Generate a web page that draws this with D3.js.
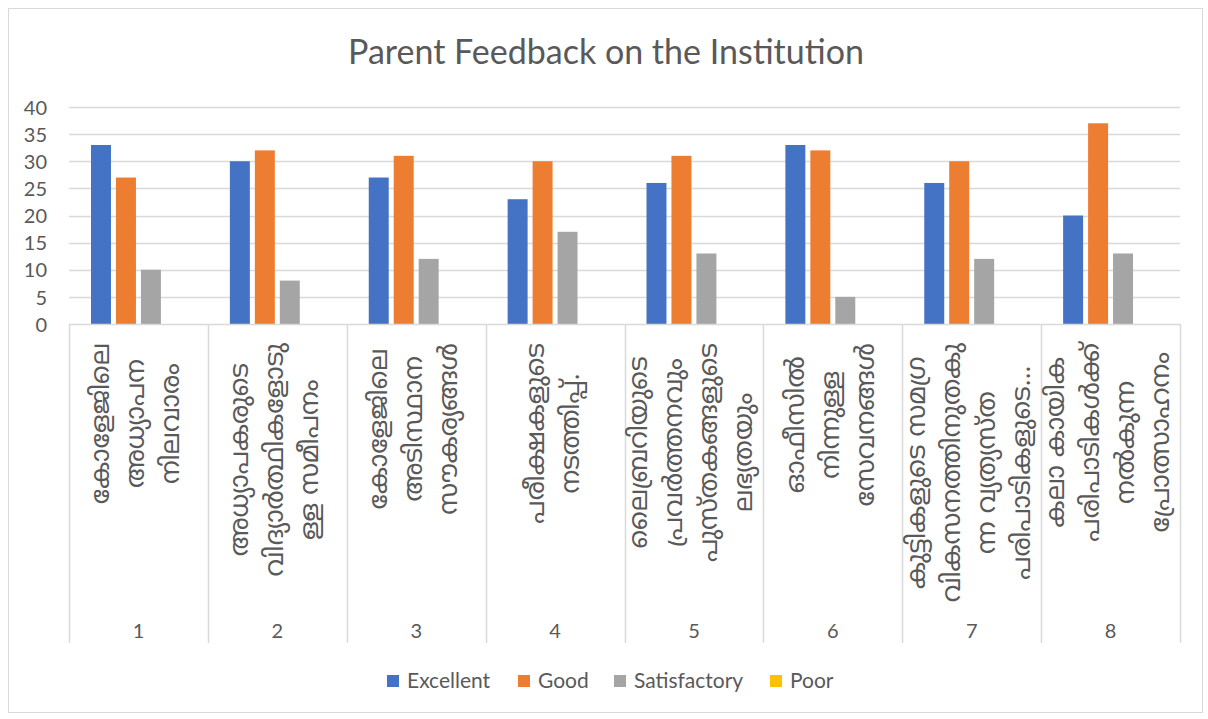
<!DOCTYPE html>
<html><head><meta charset="utf-8">
<script src="https://cdn.jsdelivr.net/npm/d3@7"></script>
<style>
html,body{margin:0;padding:0;background:#fff;}
svg{display:block;font-family:Lato,"Liberation Sans",sans-serif;}
</style></head>
<body>
<svg id="chart" width="1208" height="719"></svg>
<script>
const title = "Parent Feedback on the Institution";
const categories = ["1","2","3","4","5","6","7","8"];
const categoryTexts = [
  ["കോളേജിലെ","അധ്യാപന","നിലവാരം"],
  ["അധ്യാപകരുടെ","വിദ്യാർത്ഥികളോടു","ള്ള  സമീപനം"],
  ["കോളേജിലെ","അടിസ്ഥാന","സൗകര്യങ്ങൾ"],
  ["പരീക്ഷകളുടെ","നടത്തിപ്പ്."],
  ["ലൈബ്രറിയുടെ","പ്രവർത്തനവും","പുസ്തകങ്ങളുടെ","ലഭ്യതയും"],
  ["ഓഫീസിൽ","നിന്നുള്ള","സേവനങ്ങൾ"],
  ["കുട്ടികളുടെ  സമഗ്ര","വികസനത്തിനുതകു","ന്ന  വ്യത്യസ്ത","പരിപാടികളുടെ..."],
  ["കലാ  കായിക","പരിപാടികൾക്ക്","നൽകുന്ന","പ്രോത്സാഹനം"]
];
const seriesNames = ["Excellent","Good","Satisfactory","Poor"];
const excellent = [33,30,27,23,26,33,26,20];
const good = [27,32,31,30,31,32,30,37];
const satisfactory = [10,8,12,17,13,5,12,13];
const poor = [0,0,0,0,0,0,0,0];
const yTicks = [0,5,10,15,20,25,30,35,40];
const colors = ["#4472C4","#ED7D31","#A5A5A5","#FFC000"];

(function(){
const seriesValues = [excellent, good, satisfactory, poor];
const svg = d3.select("#chart");
const textColor = "#595959";
const gridColor = "#D9D9D9";

svg.append("rect").attr("x",8.5).attr("y",8.5).attr("width",1194).attr("height",704)
  .attr("fill","#fff").attr("stroke",gridColor).attr("stroke-width",1);

svg.append("text").attr("x",606).attr("y",64).attr("text-anchor","middle")
  .attr("font-size",34).attr("fill",textColor).attr("font-weight",400).text(title);

const pLeft = 69, pRight = 1180, pTop = 107, pBottom = 324;
const x0 = d3.scaleBand().domain(categories).range([pLeft,pRight]).padding(0);
const x1 = d3.scaleBand().domain(seriesNames).range([22, x0.bandwidth()-22]).paddingInner(0.2).paddingOuter(0);
const y = d3.scaleLinear().domain([0,40]).range([pBottom,pTop]);

svg.append("g").selectAll("line").data(yTicks.filter(d=>d>0)).join("line")
  .attr("x1",pLeft).attr("x2",pRight)
  .attr("y1",d=>Math.round(y(d))+0.5).attr("y2",d=>Math.round(y(d))+0.5)
  .attr("stroke",gridColor).attr("stroke-width",1.5);

const yAxis = d3.axisLeft(y).tickValues(yTicks).tickSize(0).tickPadding(0);
const yg = svg.append("g").attr("transform",`translate(${47},0)`).call(yAxis);
yg.select(".domain").remove();
yg.selectAll("text").attr("font-size",20).attr("fill",textColor).attr("font-family","Lato,'Liberation Sans',sans-serif").attr("dy","0.36em");

const groups = svg.append("g").selectAll("g").data(categories).join("g")
  .attr("transform",d=>`translate(${x0(d)},0)`);
groups.selectAll("rect").data((d,i)=>seriesNames.map((s,j)=>({s, v: seriesValues[j][i], c: colors[j]}))).join("rect")
  .attr("x",d=>x1(d.s)).attr("width",x1.bandwidth())
  .attr("y",d=>y(d.v)).attr("height",d=>pBottom - y(d.v))
  .attr("fill",d=>d.c);

const axisBottom = 643;
svg.append("line").attr("x1",pLeft).attr("x2",pRight).attr("y1",pBottom+0.5).attr("y2",pBottom+0.5)
  .attr("stroke",gridColor).attr("stroke-width",1.5);
const bounds = categories.map(c=>x0(c)).concat([pRight]);
svg.append("g").selectAll("line").data(bounds).join("line")
  .attr("x1",d=>Math.round(d)+0.5).attr("x2",d=>Math.round(d)+0.5)
  .attr("y1",pBottom).attr("y2",axisBottom)
  .attr("stroke",gridColor).attr("stroke-width",1.5);

svg.append("g").selectAll("text").data(categories).join("text")
  .attr("x",d=>x0(d)+x0.bandwidth()/2).attr("y",638).attr("text-anchor","middle")
  .attr("font-size",20).attr("fill",textColor).text(d=>d);

const lineGap = 35;
categories.forEach((c,i)=>{
  const lines = categoryTexts[i];
  const cx = x0(c)+x0.bandwidth()/2;
  const g = svg.append("g");
  const texts = lines.map((t,k)=>g.append("text").attr("font-size",26).attr("fill",textColor)
      .attr("font-family","'Noto Sans Malayalam','Noto Sans',Lato,sans-serif")
      .attr("text-anchor","middle").text(t));
  const maxLen = d3.max(texts, t=>t.node().getComputedTextLength());
  const cy = 343 + maxLen/2;
  texts.forEach((t,k)=>{
    const lx = cx + (k - (lines.length-1)/2)*lineGap + 6;
    t.attr("transform",`translate(${lx},${cy}) rotate(-90)`);
  });
});

const legendItems = [
  {name:"Excellent", x:387},
  {name:"Good", x:518},
  {name:"Satisfactory", x:614},
  {name:"Poor", x:770}
];
const lg = svg.append("g");
legendItems.forEach((it,i)=>{
  lg.append("rect").attr("x",it.x).attr("y",675).attr("width",12).attr("height",12).attr("fill",colors[i]);
  lg.append("text").attr("x",it.x+20).attr("y",688).attr("font-size",21).attr("fill",textColor).text(seriesNames[i]);
});
})();
</script>
</body></html>
